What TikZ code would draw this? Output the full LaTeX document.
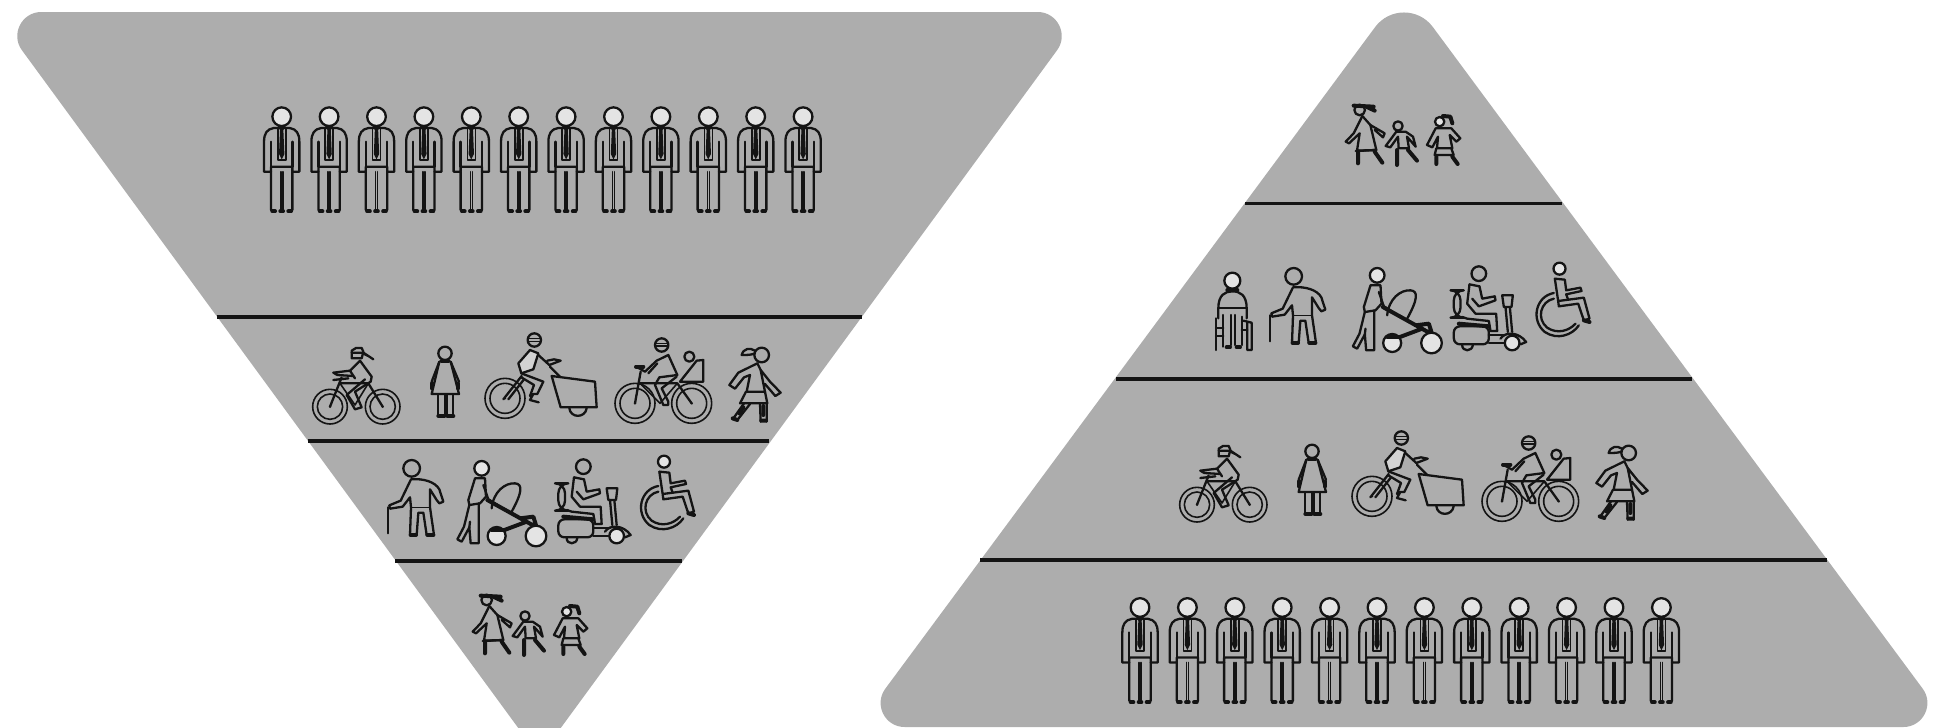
\documentclass[tikz,border=0pt]{standalone}
\definecolor{tri}{HTML}{ADADAD}
\definecolor{ink}{HTML}{141414}
\definecolor{pale}{HTML}{E4E4E4}
\newcommand{\bikewheel}[4]{%
  \path[thin ico] (#1,#2) circle[radius=#3];
  \path[thin ico] (#1,#2) circle[radius=#4];
  \path[fill=ink] (#1,#2) circle[radius=4];
}
\tikzset{
  x=.5pt,y=-.5pt,
  ico/.style={draw=ink,line width=1.15pt,line join=round,line cap=round},
  thin ico/.style={draw=ink,line width=.8pt,line join=round,line cap=round},
  thick ico/.style={draw=ink,line width=2pt,line join=round,line cap=round},
  rule line/.style={draw=ink,line width=1.7pt},
  man/.pic={
    \path[ico,fill=pale] (0,0) circle[radius=28];
    \path[ico] (-24,34) .. controls (-44,37) and (-53,50) .. (-53,75) -- (-53,165) -- (-32,165) -- (-32,150) -- (32,150) -- (32,165) -- (53,165) -- (53,75) .. controls (53,50) and (44,37) .. (24,34) -- cycle;
    \path[ico] (-32,75) -- (-32,150) (32,75) -- (32,150);
    \path[thin ico] (-12,36) -- (-12,130) -- (12,130) -- (12,36);
    \path[fill=ink] (-12,28) -- (12,28) -- (5,40) -- (8,112) -- (0,128) -- (-8,112) -- (-5,40) -- cycle;
    \path[ico] (-32,165) -- (-32,280) -- (-22,283) (32,165) -- (32,280) -- (22,283);
    \path[thin ico] (-3,165) -- (-3,280) (3,165) -- (3,280);
    \path[thick ico] (-28,284) -- (-20,284) (-4,284) -- (4,284) (20,284) -- (28,284);
  },
  oldman/.pic={
    \path[ico] (95,55) circle[radius=25];
    \path[ico] (25,172) -- (25,250);
    \path[ico] (93,88) -- (62,152) -- (28,166) -- (30,176) -- (68,170) -- (90,142) -- (93,172) -- (90,255) -- (110,255) -- (115,188) -- (130,188) -- (140,255) -- (162,255) -- (150,172) -- (150,118) -- (170,150) -- (178,160) -- (190,155) -- (178,118) .. controls (165,95) and (130,85) .. (93,88);
    \path[thin ico] (93,172) -- (150,172);
    \path[thick ico] (92,255) -- (108,255) (142,255) -- (160,255);
  },
  stroller/.pic={
    \path[ico,fill=pale] (305,55) circle[radius=22];
    \path[ico] (285,85) -- (265,150) -- (268,165) -- (300,160) -- (318,140) -- (315,85) -- cycle;
    \path[ico] (310,105) -- (325,148) -- (352,165);
    \path[ico] (268,165) -- (252,230) -- (232,268) -- (245,275) -- (268,232) -- (272,280) -- (296,280) -- (296,160);
    \path[ico] (270,215) -- (268,232);
    \path[ico] (335,175) .. controls (340,125) and (375,98) .. (405,100) .. controls (428,102) and (428,125) .. (395,185);
    \path[thick ico] (322,150) -- (470,232) (360,245) -- (440,215) (420,205) -- (460,200) -- (470,232);
    \path[ico,fill=pale] (350,258) circle[radius=27];
    \path[ico,fill=pale] (468,258) circle[radius=31];
    \path[thick ico] (335,240) -- (372,240);
  },
  scooter/.pic={
    \path[ico] (610,50) circle[radius=22];
    \path[ico] (582,82) -- (575,140) -- (600,170) -- (662,170) -- (665,222) -- (645,222) -- (640,192) -- (575,185) -- (560,180);
    \path[ico] (582,82) -- (612,88) -- (620,125) -- (658,118) -- (660,130) -- (610,148) -- (590,125);
    \path[ico,rounded corners=5pt] (535,100) rectangle (555,182);
    \path[ico,rounded corners=3pt] (535,208) rectangle (640,262);
    \path[thick ico] (550,200) -- (640,208);
    \path[ico] (560,264) .. controls (560,285) and (590,285) .. (592,264);
    \path[ico] (640,235) -- (690,235) (640,258) -- (685,258);
    \path[ico] (680,115) -- (712,115) -- (708,150) -- (685,150) -- cycle;
    \path[ico] (690,150) -- (697,225) (703,150) -- (710,225);
    \path[ico] (675,245) .. controls (690,222) and (730,225) .. (752,255) -- (735,262);
    \path[ico,fill=pale] (710,258) circle[radius=22];
  },
  wchair/.pic={
    \path[ico,fill=pale] (852,35) circle[radius=18];
    \path[ico] (838,65) -- (848,132) -- (925,122) -- (942,185) -- (925,190) -- (908,140) -- (850,148) -- (848,132);
    \path[ico] (838,65) -- (868,68) -- (872,100) -- (915,92) -- (918,102) -- (872,112) -- (878,128);
    \path[thick ico] (925,190) -- (942,195);
    \path[ico] (835,108) .. controls (780,118) and (765,190) .. (808,225) .. controls (845,250) and (890,235) .. (910,205);
    \path[ico] (835,125) .. controls (795,133) and (782,185) .. (815,212) .. controls (845,232) and (880,222) .. (900,200);
  },
  seated/.pic={
    \path[ico,fill=pale] (127,92) circle[radius=24];
    \path[ico] (85,205) -- (85,175) .. controls (85,135) and (105,124) .. (127,124) .. controls (150,124) and (170,135) .. (170,175) -- (170,205);
    \path[thick ico] (112,120) -- (142,120);
    \path[ico] (85,175) -- (170,175);
    \path[ico] (78,205) -- (78,300) (100,195) -- (100,290);
    \path[ico] (78,235) -- (100,235) (78,258) -- (100,258);
    \path[ico] (122,195) -- (122,285) (135,195) -- (135,285) (155,200) -- (155,285);
    \path[ico] (160,212) -- (185,218) -- (185,300) -- (172,300) -- (172,218);
    \path[ico] (155,240) -- (172,240);
    \path[thick ico] (110,292) -- (120,292) (140,292) -- (150,292);
  },
  biker/.pic={
    \bikewheel{90}{260}{52}{38}
    \bikewheel{248}{260}{52}{38}
    \path[ico] (168,84) -- (155,92) -- (155,115) -- (185,115) -- (190,95) -- (185,84) -- cycle;
    \path[ico] (155,98) -- (190,98) -- (220,118) -- (205,108) -- (188,100);
    \path[ico] (180,122) -- (150,152) -- (100,158) -- (112,165) -- (160,168);
    \path[ico] (180,122) -- (215,170) -- (212,185) -- (165,215) -- (185,262) -- (165,268) -- (140,225) -- (195,178);
    \path[ico] (150,152) -- (165,175);
    \path[ico] (125,172) -- (90,260);
    \path[ico] (120,190) -- (205,190) -- (248,260);
    \path[ico] (100,180) -- (145,175);
    \path[thin ico] (120,190) -- (165,255) -- (205,190);
  },
  lady/.pic={
    \path[ico] (435,100) circle[radius=20];
    \path[thick ico] (425,123) -- (445,123);
    \path[ico] (418,125) -- (395,222) -- (477,222) -- (452,125);
    \path[ico] (418,125) -- (395,185) (452,125) -- (477,185);
    \path[thick ico] (396,190) -- (396,205) (474,190) -- (474,205);
    \path[ico] (415,225) -- (415,288) (435,225) -- (435,288) (460,225) -- (460,288) (440,225) -- (440,288);
    \path[thick ico] (415,288) -- (433,288) (442,288) -- (460,288);
  },
  cargo/.pic={
    \bikewheel{615}{235}{60}{45}
    \path[ico] (703,60) circle[radius=20];
    \path[thin ico] (684,55) -- (722,55) (684,65) -- (722,65);
    \path[ico,fill=pale!70!tri] (690,90) -- (655,130) -- (664,160) -- (700,148) -- (715,100) -- cycle;
    \path[ico] (715,105) -- (748,135) -- (782,122) -- (762,118) -- (742,122);
    \path[ico] (664,160) -- (730,185) -- (712,222) -- (700,222) -- (690,240) -- (716,247) (664,172) -- (702,195) -- (690,228);
    \path[ico] (610,238) -- (665,168) (625,238) -- (672,178);
    \path[ico] (750,140) -- (780,170);
    \path[ico] (755,168) -- (885,185) -- (890,262) -- (782,262) -- cycle;
    \path[ico] (808,265) .. controls (812,295) and (855,295) .. (860,265);
  },
  familybike/.pic={
    \bikewheel{105}{250}{60}{45}
    \bikewheel{275}{250}{60}{45}
    \path[ico] (185,75) circle[radius=20];
    \path[thin ico] (165,70) -- (205,70) (165,78) -- (205,78);
    \path[ico] (170,122) -- (205,105) -- (232,165) -- (178,172) (170,122) -- (135,155) -- (112,142);
    \path[thick ico] (108,140) -- (130,140);
    \path[ico] (172,130) -- (145,160) (178,172) -- (165,195) -- (190,255) -- (205,255) -- (205,245) -- (185,205) -- (230,170);
    \path[ico] (122,155) -- (105,250);
    \path[ico] (115,190) -- (232,190) -- (275,250);
    \path[thin ico] (125,195) -- (180,250) -- (232,190);
    \path[ico] (240,185) -- (290,122) -- (310,120) -- (310,185) -- cycle;
    \path[ico] (268,110) circle[radius=15];
  },
  walker/.pic={
    \path[ico] (485,105) circle[radius=22];
    \path[ico] (465,92) .. controls (450,82) and (430,85) .. (425,105) .. controls (440,105) and (455,105) .. (465,100);
    \path[ico] (472,130) -- (415,158) -- (388,195) -- (405,206) -- (432,172) -- (450,165) -- (440,215) -- (495,215) -- (482,150) -- (510,185) -- (542,218) -- (526,228) -- (495,192);
    \path[ico] (472,130) -- (482,150);
    \path[ico] (438,215) -- (420,250) -- (502,250) -- (495,215);
    \path[ico] (432,250) -- (398,298) (450,252) -- (412,300);
    \path[ico] (480,250) -- (482,305) (500,250) -- (500,305);
    \path[thick ico] (398,295) -- (412,300) (484,302) -- (498,302);
    \path[thick ico] (430,262) -- (418,280) (490,258) -- (490,285);
  },
  kids/.pic={
    \path[ico] (80,60) circle[radius=16];
    \path[thick ico] (62,47) -- (122,50) (100,50) -- (125,62);
    \path[ico] (88,78) -- (62,130) -- (38,155) -- (48,160) -- (80,130) -- (72,182) -- (130,180) -- (112,105) -- (155,130) -- (150,142) -- (125,120);
    \path[ico] (88,78) -- (112,105);
    \path[thick ico] (75,185) -- (75,220) (125,185) -- (148,218);
    \path[ico] (68,183) -- (130,180);
    \path[ico] (195,108) circle[radius=14];
    \path[ico] (190,125) -- (158,168) -- (172,172) -- (195,140) -- (197,175) -- (228,175) -- (222,140) -- (248,170) -- (240,140) -- (218,125) -- cycle;
    \path[thick ico] (192,180) -- (192,225) (225,180) -- (252,212);
    \path[ico,fill=pale] (320,95) circle[radius=14];
    \path[thick ico] (330,78) -- (352,80) -- (358,100);
    \path[ico] (308,115) -- (282,165) -- (298,172) -- (315,140) -- (312,175) -- (358,175) -- (350,135) -- (370,155) -- (382,145) -- (355,115) -- cycle;
    \path[ico] (310,175) -- (305,195) -- (362,195) -- (355,175);
    \path[thick ico] (310,200) -- (310,222) (358,200) -- (374,222);
  },
}
\begin{document}
\begin{tikzpicture}
  \useasboundingbox (0,0) rectangle (1934,728);
  \clip (0,0) rectangle (1934,728);
  % left funnel
  \path[fill=tri] (41.3,12) -- (1037.7,12) .. controls (1057.3,12) and (1068.7,34.4) .. (1057.1,50.2) -- (558.9,730.5) .. controls (549.3,743.6) and (529.7,743.6) .. (520.1,730.5) -- (21.9,50.2) .. controls (10.3,34.4) and (21.7,12) .. (41.3,12) -- cycle;
  \coordinate (l1a) at (217,317); \coordinate (l1b) at (862,317);
  \coordinate (l2a) at (308,441); \coordinate (l2b) at (769,441);
  \coordinate (l3a) at (395,561); \coordinate (l3b) at (682,561);
  \draw[rule line] (l1a) -- (l1b);
  \draw[rule line] (l2a) -- (l2b);
  \draw[rule line] (l3a) -- (l3b);
  % right pyramid
  \path[fill=tri] (1375.1,27.1) .. controls (1389.5,7.6) and (1418.5,7.6) .. (1432.9,27.1) -- (1922.7,688.7) .. controls (1934.4,704.5) and (1923.1,727) .. (1903.4,727) -- (904.6,727) .. controls (884.9,727) and (873.6,704.5) .. (885.3,688.7) -- cycle;
  \coordinate (r1a) at (1245,203.5); \coordinate (r1b) at (1562,203.5);
  \coordinate (r2a) at (1116,379); \coordinate (r2b) at (1692,379);
  \coordinate (r3a) at (980,560); \coordinate (r3b) at (1827,560);
  \draw[rule line] (r1a) -- (r1b);
  \draw[rule line] (r2a) -- (r2b);
  \draw[rule line] (r3a) -- (r3b);
  % men
  \foreach \i in {0,...,11} {
    \pic[scale=1/3] at ({281.7+47.4*\i},116.7) {man};
    \pic[scale=1/3] at ({1140+47.4*\i},607.5) {man};
  }
  % left rows
  \pic[scale=1/3] at (300,320) {biker};
  \pic[scale=1/3] at (300,320) {lady};
  \pic[scale=1/3] at (300,320) {cargo};
  \pic[scale=1/3] at (600,320) {familybike};
  \pic[scale=1/3] at (600,320) {walker};
  \pic[scale=1/3] at (380,450) {oldman};
  \pic[scale=1/3] at (380,450) {stroller};
  \pic[scale=1/3] at (380,450) {scooter};
  \pic[scale=1/3] at (380,450) {wchair};
  \pic[scale=1/3] at (460,580) {kids};
  % right rows
  \pic[scale=1/3] at (1167,418) {biker};
  \pic[scale=1/3] at (1167,418) {lady};
  \pic[scale=1/3] at (1167,418) {cargo};
  \pic[scale=1/3] at (1467,418) {familybike};
  \pic[scale=1/3] at (1467,418) {walker};
  \pic[scale=1/3] at (1190,250) {seated};
  \pic[scale=1/3] at (1262,258) {oldman};
  \pic[scale=1/3] at (1275.5,257) {stroller};
  \pic[scale=1/3] at (1275.5,257) {scooter};
  \pic[scale=1/3] at (1275.5,257) {wchair};
  \pic[scale=1/3] at (1333,90) {kids};
\end{tikzpicture}
\end{document}
